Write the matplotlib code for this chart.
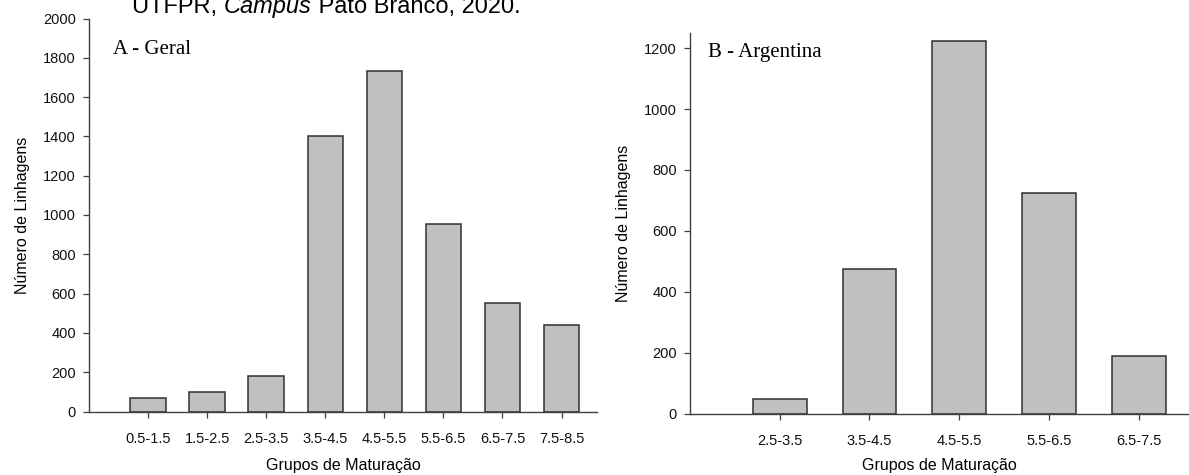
#!/usr/bin/env python3
"""Maturation group histograms: general and Argentina"""
import matplotlib
matplotlib.use("Agg")
import matplotlib.pyplot as plt

plt.rcParams['font.family'] = ['Liberation Sans', 'DejaVu Sans']

geral_groups = ["0.5-1.5", "1.5-2.5", "2.5-3.5", "3.5-4.5",
                "4.5-5.5", "5.5-6.5", "6.5-7.5", "7.5-8.5"]
geral_counts = [70, 97, 182, 1402, 1732, 952, 553, 442]

arg_groups = ["2.5-3.5", "3.5-4.5", "4.5-5.5", "5.5-6.5", "6.5-7.5"]
arg_counts = [47, 474, 1223, 725, 190]

FILL = '#c0c0c0'
EDGE = '#303030'
AXIS = '#404040'


def draw_panel(ax, groups, counts, xmax, ymax, yticks, xpad):
    x = list(range(1, len(groups) + 1))
    ax.bar(x, counts, width=0.6, color=FILL, edgecolor=EDGE, linewidth=1.1)
    ax.set_xlim(0, xmax)
    ax.set_ylim(0, ymax)
    ax.set_xticks(x)
    ax.set_xticklabels(groups)
    ax.set_yticks(yticks)
    for s in ['top', 'right']:
        ax.spines[s].set_visible(False)
    for s in ['left', 'bottom']:
        ax.spines[s].set_color(AXIS)
        ax.spines[s].set_linewidth(1.0)
    ax.tick_params(direction='out', length=4.5, width=0.9, color=AXIS,
                   labelsize=10.5, labelcolor='#111111')
    ax.tick_params(axis='x', pad=10)
    ax.tick_params(axis='y', pad=5)
    ax.set_xlabel("Grupos de Maturação", fontsize=11.5, labelpad=xpad)
    ax.set_ylabel("Número de Linhagens", fontsize=11.5, labelpad=9)


fig = plt.figure(figsize=(11.89, 4.75), dpi=100)

ax1 = fig.add_axes([89 / 1189, (475 - 411.5) / 475, (597 - 89) / 1189, (411.5 - 18.5) / 475])
draw_panel(ax1, geral_groups, geral_counts, 8.6, 2000, range(0, 2001, 200), 9)

ax2 = fig.add_axes([690 / 1189, (475 - 413.5) / 475, (1189 - 690) / 1189, (413.5 - 33) / 475])
draw_panel(ax2, arg_groups, arg_counts, 5.56, 1250, range(0, 1201, 200), 7.5)

serif = ['Liberation Serif', 'DejaVu Serif']
fig.text(113 / 1189, 1 - 50 / 475, "A - Geral", fontsize=15, family=serif,
         va='center', ha='left')
fig.text(708 / 1189, 1 - 52 / 475, "B - Argentina", fontsize=15, family=serif,
         va='center', ha='left')

# caption line cut off at the top of the image
renderer = fig.canvas.get_renderer()
x0 = 132 / 1189
yb = 1 - 13 / 475
for part, style in [("UTFPR, ", 'normal'), ("Campus", 'italic'),
                    (" Pato Branco, 2020.", 'normal')]:
    t = fig.text(x0, yb, part, fontsize=17, fontstyle=style,
                 ha='left', va='baseline')
    bb = t.get_window_extent(renderer=renderer)
    x0 += bb.width / fig.bbox.width

fig.savefig("out.png", dpi=100)
